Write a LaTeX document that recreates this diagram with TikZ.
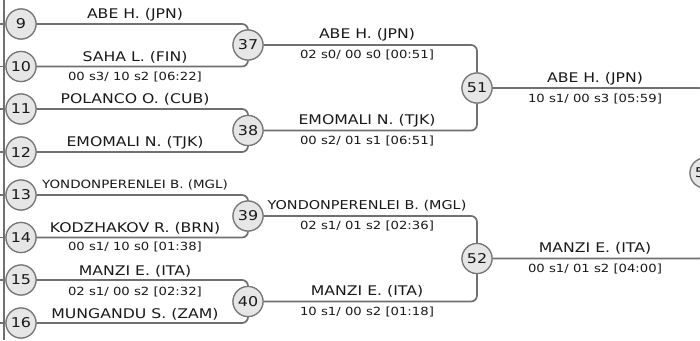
\documentclass[tikz,border=0pt]{standalone}
\usepackage{fontspec}
\setmainfont{DejaVu Sans}[FakeStretch=1.18]
\definecolor{linec}{RGB}{112,112,112}
\definecolor{circd}{RGB}{118,118,118}
\definecolor{circf}{RGB}{230,230,230}
\definecolor{txt}{RGB}{25,25,25}
\tikzset{
  conn/.style={draw=linec, line width=1.7pt, rounded corners=6pt},
  edge/.style={draw=linec, line width=1.2pt},
  mnode/.style={circle, draw=circd, fill=circf, line width=1.2pt, minimum size=30pt, inner sep=0pt, text=txt, font=\fontsize{13.5}{14}\selectfont},
  nm/.style={anchor=base, inner sep=0pt, text=txt, font=\fontsize{13.3}{14}\selectfont},
  nmsmall/.style={anchor=base, inner sep=0pt, text=txt, font=\fontsize{11.4}{12}\selectfont},
  nmmid/.style={anchor=base, inner sep=0pt, text=txt, font=\fontsize{12.2}{13}\selectfont},
  sc/.style={anchor=base, inner sep=0pt, text=txt, font=\fontsize{11.2}{12}\selectfont}
}
\begin{document}
\begin{tikzpicture}[x=1pt,y=-1pt]
\useasboundingbox (0,0) rectangle (700,340);
\clip (0,0) rectangle (700,340);
\fill[white] (0,0) rectangle (700,340);
% left edge
\coordinate (ltop) at (4,0);
\coordinate (lbot) at (4,340);
\draw[edge] (ltop) -- (lbot);
% nodes
\node[mnode] (n9)  at (21,24)    {9};
\node[mnode] (n10) at (21,66.5)  {10};
\node[mnode] (n11) at (21,109)   {11};
\node[mnode] (n12) at (21,152)   {12};
\node[mnode] (n13) at (21,195)   {13};
\node[mnode] (n14) at (21,237.5) {14};
\node[mnode] (n15) at (21,280)   {15};
\node[mnode] (n16) at (21,323)   {16};
\node[mnode] (n37) at (248,45)    {37};
\node[mnode] (n38) at (248,130.5) {38};
\node[mnode] (n39) at (248,216)   {39};
\node[mnode] (n40) at (248,301.5) {40};
\node[mnode] (n51) at (477,88)    {51};
\node[mnode] (n52) at (477,258.5) {52};
\node[mnode] (n55) at (705,173)   {55};
% left ticks
\foreach \n in {n9,n10,n11,n12,n13,n14,n15,n16}{
  \draw[edge] (\n.west) -- ++(-8,0);
}
% connectors
\draw[conn] (n9) -| (n37);
\draw[conn] (n10) -| (n37);
\draw[conn] (n11) -| (n38);
\draw[conn] (n12) -| (n38);
\draw[conn] (n13) -| (n39);
\draw[conn] (n14) -| (n39);
\draw[conn] (n15) -| (n40);
\draw[conn] (n16) -| (n40);
\draw[conn] (n37) -| (n51);
\draw[conn] (n38) -| (n51);
\draw[conn] (n39) -| (n52);
\draw[conn] (n40) -| (n52);
\draw[conn] (n51) -| (n55);
\draw[conn] (n52) -| (n55);
% redraw circles on top
\foreach \n/\t in {n9/9,n10/10,n11/11,n12/12,n13/13,n14/14,n15/15,n16/16,n37/37,n38/38,n39/39,n40/40,n51/51,n52/52,n55/55}{
  \node[mnode] at (\n) {\t};
}
% round 1 labels
\node[nm] (a9)  at (135,18)    {ABE H. (JPN)};
\node[nm] (a10) at (135,61)    {SAHA L. (FIN)};
\node[sc] (s10) at (135,80)    {00 s3/ 10 s2 [06:22]};
\node[nm] (a11) at (135,103)   {POLANCO O. (CUB)};
\node[nm] (a12) at (135,146)   {EMOMALI N. (TJK)};
\node[nmsmall] (a13) at (135,188) {YONDONPERENLEI B. (MGL)};
\node[nm] (a14) at (135,232)   {KODZHAKOV R. (BRN)};
\node[sc] (s14) at (135,250.5) {00 s1/ 10 s0 [01:38]};
\node[nm] (a15) at (135,275)   {MANZI E. (ITA)};
\node[sc] (s15) at (135,295)   {02 s1/ 00 s2 [02:32]};
\node[nm] (a16) at (135,318)   {MUNGANDU S. (ZAM)};
% round 2 labels
\node[nm] (a37) at (367,38.5)  {ABE H. (JPN)};
\node[sc] (s37) at (367,58.5)  {02 s0/ 00 s0 [00:51]};
\node[nm] (a38) at (367,124)   {EMOMALI N. (TJK)};
\node[sc] (s38) at (367,144)   {00 s2/ 01 s1 [06:51]};
\node[nmmid] (a39) at (367,209.5) {YONDONPERENLEI B. (MGL)};
\node[sc] (s39) at (367,229.5) {02 s1/ 01 s2 [02:36]};
\node[nm] (a40) at (367,295)   {MANZI E. (ITA)};
\node[sc] (s40) at (367,315)   {10 s1/ 00 s2 [01:18]};
% round 3 labels
\node[nm] (a51) at (595,82)    {ABE H. (JPN)};
\node[sc] (s51) at (595,102.5) {10 s1/ 00 s3 [05:59]};
\node[nm] (a52) at (595,252.5) {MANZI E. (ITA)};
\node[sc] (s52) at (595,272.5) {00 s1/ 01 s2 [04:00]};
\end{tikzpicture}
\end{document}
